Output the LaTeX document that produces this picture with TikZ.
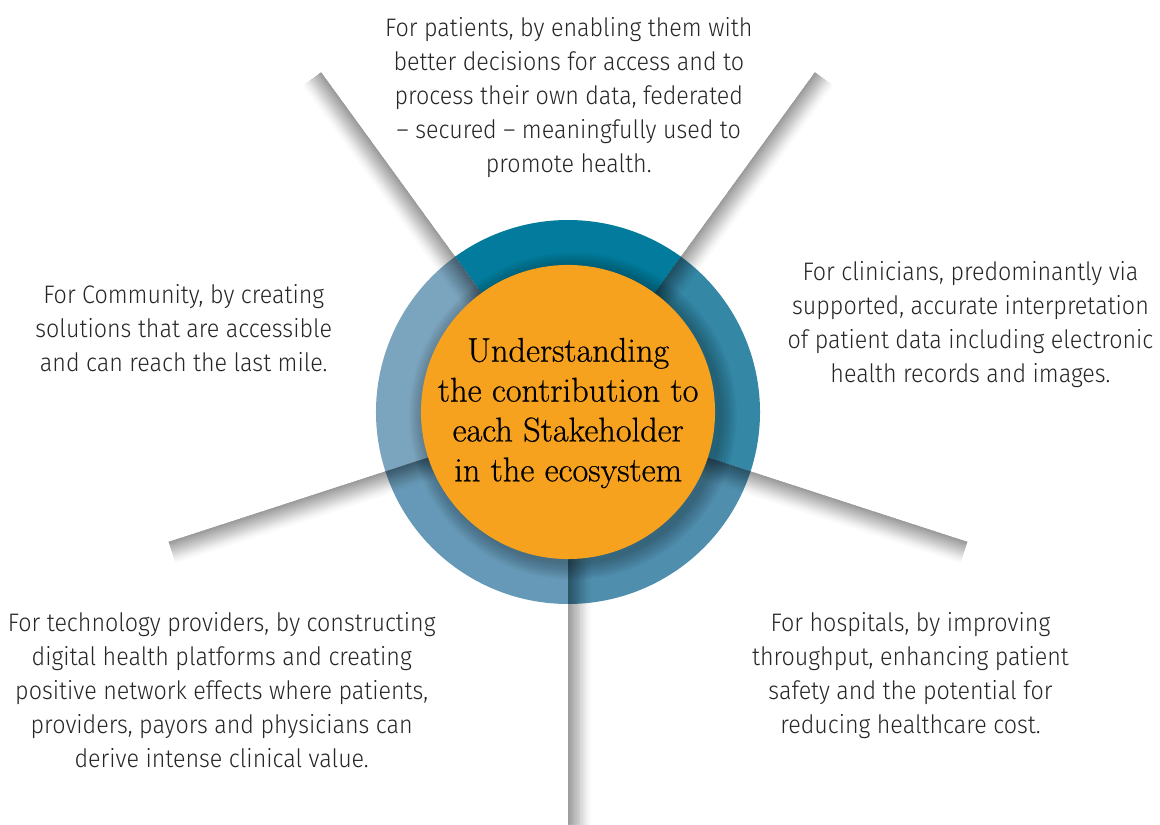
\documentclass[tikz,border=0pt]{standalone}
\usepackage{fontspec}
\usetikzlibrary{calc}
\IfFontExistsTF{Fira Sans Light}
  {\newfontfamily\labelfont{Fira Sans Light}[FakeStretch=0.92]}
  {\newfontfamily\labelfont{Fira Sans}[FakeStretch=0.91]}
\newfontfamily\hubfont{Latin Modern Roman}[FakeBold=0.6]
\definecolor{segtop}{HTML}{037B9C}
\definecolor{segright}{HTML}{3487A5}
\definecolor{segbr}{HTML}{4F8EAD}
\definecolor{segbl}{HTML}{6699B7}
\definecolor{segleft}{HTML}{7BA4BE}
\definecolor{hubfill}{HTML}{F7A21E}
\definecolor{txt}{HTML}{262626}
\tikzset{
  sidetext/.style={anchor=base, inner sep=0pt, text=txt,
    font=\labelfont\fontsize{18}{24.17}\selectfont},
  hubtext/.style={anchor=base, inner sep=0pt, text=black,
    font=\hubfont\fontsize{24.4}{28.35}\selectfont},
  rayshade/.style={fill=black, opacity=0.019},
}
\begin{document}
\begin{tikzpicture}[x=0.025cm, y=0.025cm]
\useasboundingbox (0,0) rectangle (1160,824);
\fill[white] (0,0) rectangle (1160,824);
\coordinate (C) at (568,412);
% ring segments
\fill[segtop]   (C) -- ++(54:192)  arc[start angle=54,  end angle=126, radius=192] -- cycle;
\fill[segleft]  (C) -- ++(126:192) arc[start angle=126, end angle=198, radius=192] -- cycle;
\fill[segbl]    (C) -- ++(198:192) arc[start angle=198, end angle=270, radius=192] -- cycle;
\fill[segbr]    (C) -- ++(270:192) arc[start angle=270, end angle=342, radius=192] -- cycle;
\fill[segright] (C) -- ++(-18:192) arc[start angle=-18, end angle=54,  radius=192] -- cycle;
% soft shadow of the hub on the ring
\foreach \k in {1,...,12}{
  \fill[black, opacity=0.025] ($(C)+(5,-4)$) circle[radius=147+\k*1.4];
}
% rays with shaded side
\foreach \ang/\sd in {126/1, 54/-1, -18/-1, 198/1, 270/1}{
  \begin{scope}[shift={(C)}, rotate=\ang]
    \foreach \k in {1,...,22}{
      \pgfmathsetmacro\wd{22*(1-((22-\k)/22)^(1/1.3))+0.6}
      \fill[rayshade] (0,0) rectangle (420,\sd*\wd);
    }
  \end{scope}
}
% hub
\node[circle, fill=hubfill, minimum size=7.35cm, inner sep=0pt] (hub) at (C) {};
\node[hubtext] (title) at (568.2,462.3) {\begin{tabular}[t]{@{}c@{}}Understanding\\the contribution to\\each Stakeholder\\in the ecosystem\end{tabular}};
% side texts
\node[sidetext] (patients) at (568.8,787.3) {\begin{tabular}[t]{@{}c@{}}For patients, by enabling them with\\better decisions for access and to\\process their own data, federated\\– secured – meaningfully used to\\promote health.\end{tabular}};
\node[sidetext] (clinicians) at (970.5,543.3) {\begin{tabular}[t]{@{}c@{}}For clinicians, predominantly via\\supported, accurate interpretation\\of patient data including electronic\\health records and images.\end{tabular}};
\node[sidetext] (community) at (183.7,520.7) {\begin{tabular}[t]{@{}c@{}}For Community, by creating\\solutions that are accessible\\and can reach the last mile.\end{tabular}};
\node[sidetext] (tech) at (221.7,192.3) {\begin{tabular}[t]{@{}c@{}}For technology providers, by constructing\\digital health platforms and creating\\positive network effects where patients,\\providers, payors and physicians can\\derive intense clinical value.\end{tabular}};
\node[sidetext] (hospitals) at (910.5,192.3) {\begin{tabular}[t]{@{}c@{}}For hospitals, by improving\\throughput, enhancing patient\\safety and the potential for\\reducing healthcare cost.\end{tabular}};
\end{tikzpicture}
\end{document}
